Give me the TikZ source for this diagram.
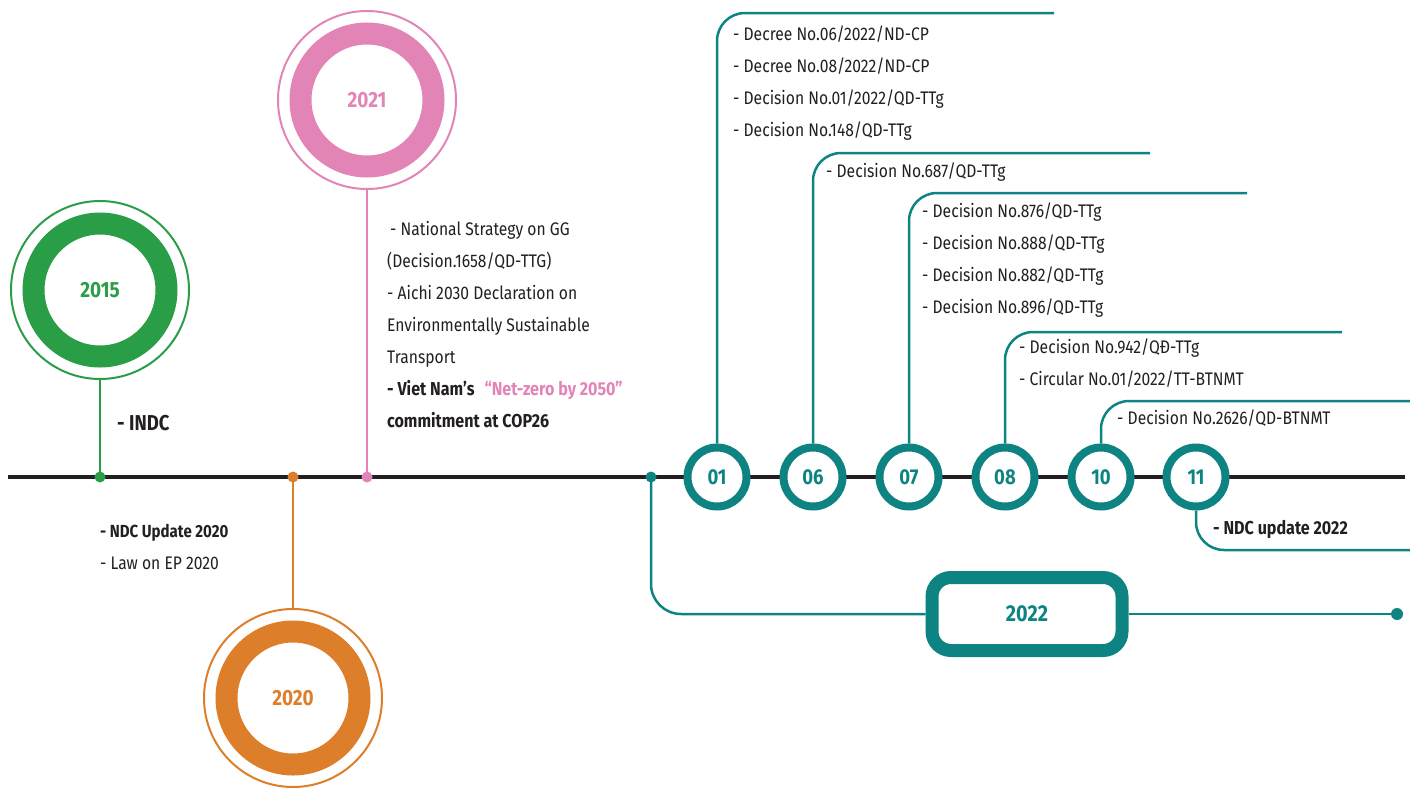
\documentclass[tikz,border=0pt]{standalone}
\usepackage{fontspec}
\setmainfont{Fira Sans}[FakeStretch=0.86]
\definecolor{ink}{HTML}{231F20}
\definecolor{cgreen}{HTML}{2A9D47}
\definecolor{corange}{HTML}{DD7E2A}
\definecolor{cpink}{HTML}{E384B6}
\definecolor{cteal}{HTML}{0D8482}
\tikzset{
 ring/.style={line width=22pt},
 halo/.style={circle, draw, line width=2pt, minimum size=178pt, inner sep=0pt},
 stem/.style={line width=2.5pt},
 pin/.style={circle, minimum size=11pt, inner sep=0pt},
 yearlbl/.style={font=\fontsize{22}{24}\selectfont\bfseries},
 body/.style={anchor=west, inner sep=0pt, font=\fontsize{18.2}{20}\selectfont, text=ink, text height=12pt, text depth=3.5pt, yshift=-1.5pt},
 bodyb/.style={body, font=\fontsize{18.7}{20}\selectfont\bfseries},
 month/.style={circle, draw=cteal, line width=8pt, fill=white, minimum size=59pt, inner sep=0pt, font=\fontsize{21.5}{24}\selectfont\bfseries, text=cteal},
 bracket/.style={draw=cteal, line width=2.5pt, rounded corners=28pt},
}
\begin{document}
\begin{tikzpicture}[x=1pt,y=-1pt]
\useasboundingbox (0,0) rectangle (1410,787);
% main line
\coordinate (L0) at (8,477);
\coordinate (L1) at (1405,477);
\draw[ink, line width=4.8pt] (L0) -- (L1);

% ---- 2015
\node[yearlbl, text=cgreen] (y2015) at (100,290) {2015};
\draw[ring, cgreen] (y2015.center) circle[radius=66.5];
\node[halo, draw=cgreen] (h2015) at (100,290) {};
\node[pin, fill=cgreen] (p2015) at (100,477) {};
\draw[stem, cgreen] (h2015.south) -- (p2015.center);
\node[bodyb, font=\fontsize{21.5}{24}\selectfont\bfseries] (t2015) at (117,425) {- INDC};

% ---- 2020
\node[yearlbl, text=corange] (y2020) at (293,698) {2020};
\draw[ring, corange] (y2020.center) circle[radius=66.5];
\node[halo, draw=corange] (h2020) at (293,698) {};
\node[pin, fill=corange] (p2020) at (293,477) {};
\draw[stem, corange] (h2020.north) -- (p2020.center);
\node[bodyb, font=\fontsize{17.5}{20}\selectfont\bfseries] (t2020a) at (100,532) {- NDC Update 2020};
\node[body] (t2020b) at (100,564) {- Law on EP 2020};

% ---- 2021
\node[yearlbl, text=cpink] (y2021) at (367,100) {2021};
\draw[ring, cpink] (y2021.center) circle[radius=66.5];
\node[halo, draw=cpink] (h2021) at (367,100) {};
\node[pin, fill=cpink] (p2021) at (367,477) {};
\draw[stem, cpink] (h2021.south) -- (p2021.center);
\node[body] (t2021a) at (390,230) {- National Strategy on GG};
\node[body] (t2021b) at (387,262) {(Decision.1658/QD-TTG)};
\node[body] (t2021c) at (387,294) {- Aichi 2030 Declaration on};
\node[body] (t2021d) at (387,326) {Environmentally Sustainable};
\node[body] (t2021e) at (387,358) {Transport};
\node[bodyb] (t2021f) at (387,390) {- Viet Nam's\,\, \textcolor{cpink}{“Net-zero by 2050”}};
\node[bodyb] (t2021g) at (387,422) {commitment at COP26};

% ---- 2022
\node[pin, fill=cteal] (p2022) at (651,477) {};
\node[draw=cteal, line width=13pt, rounded corners=19pt, minimum width=190pt, minimum height=73pt, fill=white,
      font=\fontsize{23}{26}\selectfont\bfseries, text=cteal] (box) at (1027,614) {2022};
\draw[bracket, rounded corners=30pt] (p2022.center) |- (box.west);
\node[pin, minimum size=12pt, fill=cteal] (e2022) at (1397,614) {};
\draw[stem, cteal] (box.east) -- (e2022.center);

% month circles
\coordinate (r01) at (1054,13);
\coordinate (r06) at (1150,153);
\coordinate (r07) at (1247,193);
\coordinate (r08) at (1342,332);
\coordinate (r10) at (1410,401);
\coordinate (r11) at (1410,550);
\foreach \m/\x in {01/717,06/813,07/909,08/1005,10/1101,11/1196}{
  \node[month] (m\m) at (\x,477) {\m};
}
\draw[bracket] (m01.north) |- (r01);
\draw[bracket] (m06.north) |- (r06);
\draw[bracket] (m07.north) |- (r07);
\draw[bracket] (m08.north) |- (r08);
\draw[bracket] (m10.north) |- (r10);
\draw[bracket] (m11.south) |- (r11);

% texts
\node[body] (a1) at (733,35) {- Decree No.06/2022/ND-CP};
\node[body] (a2) at (733,67) {- Decree No.08/2022/ND-CP};
\node[body] (a3) at (733,99) {- Decision No.01/2022/QD-TTg};
\node[body] (a4) at (733,131) {- Decision No.148/QD-TTg};
\node[body] (b1) at (826,172) {- Decision No.687/QD-TTg};
\node[body] (c1) at (922,212) {- Decision No.876/QD-TTg};
\node[body] (c2) at (922,244) {- Decision No.888/QD-TTg};
\node[body] (c3) at (922,276) {- Decision No.882/QD-TTg};
\node[body] (c4) at (922,308) {- Decision No.896/QD-TTg};
\node[body] (d1) at (1019,348) {- Decision No.942/QĐ-TTg};
\node[body] (d2) at (1019,380) {- Circular No.01/2022/TT-BTNMT};
\node[body] (f1) at (1117,419) {- Decision No.2626/QD-BTNMT};
\node[bodyb] (g1) at (1213,529) {- NDC update 2022};
\end{tikzpicture}
\end{document}
